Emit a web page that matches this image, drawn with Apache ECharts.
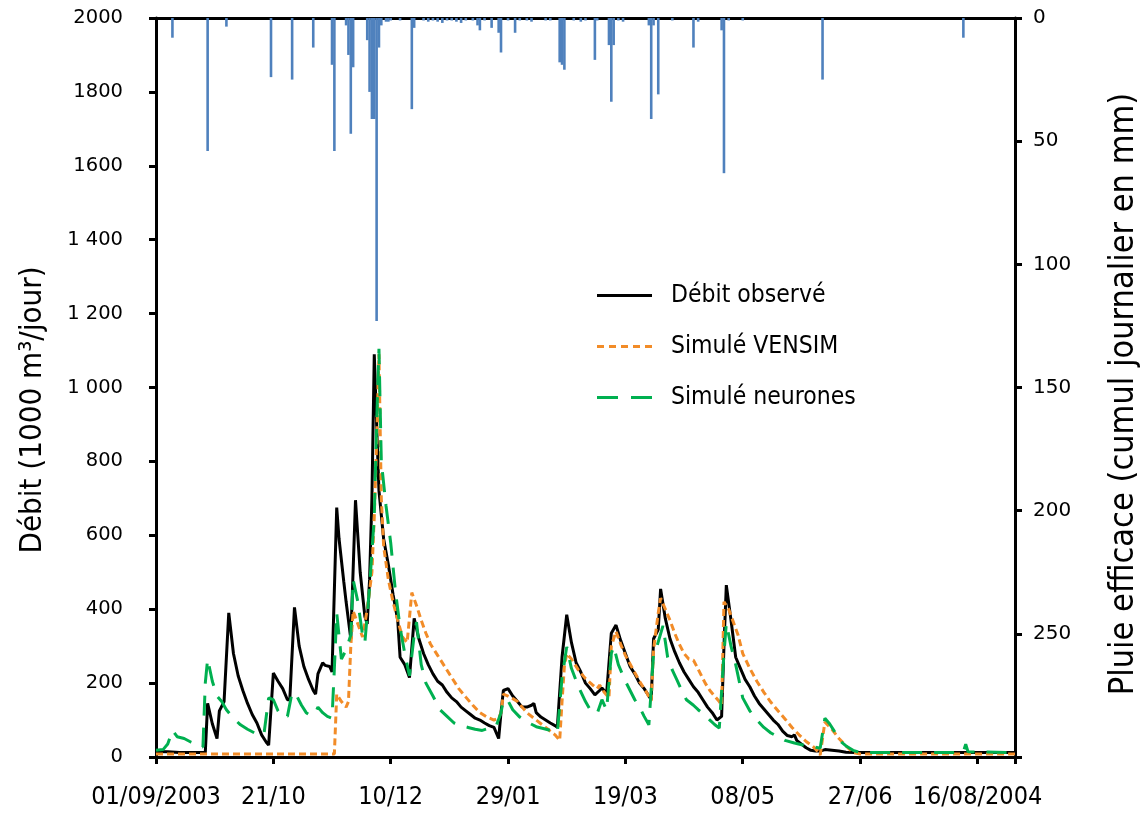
<!DOCTYPE html>
<html>
<head>
<meta charset="utf-8">
<script src="https://cdn.jsdelivr.net/npm/echarts@6/dist/echarts.min.js"></script>
<style>html,body{margin:0;padding:0;background:#fff}#c{width:1145px;height:815px}</style>
</head>
<body>
<div id="c"></div>
<script>
// ---- tick labels ----
const xTickLabels = ['01/09/2003','21/10','10/12','29/01','19/03','08/05','27/06','16/08/2004'];
const yLeftTickLabels = ['0','200','400','600','800','1 000','1 200','1 400','1600','1800','2000'];
const yRightTickLabels = ['0','50','100','150','200','250',''];

// ---- Débit observé (day index from 01/09/2003, 1000 m3/jour) ----
const obsDays = [0,5,10,15,21,22,24,26,27,29,31,33,35,37,39,41,43,45,47,48,50,52,54,56,57,59,61,63,65,67,68,69,70,71,72,74,75,77,78,80,81,83,85,87,89,90,91,92,93,94,95,97,99,101,103,104,106,108,110,112,114,116,118,120,122,124,126,128,130,132,134,136,138,140,142,144,146,147,148,150,152,154,156,158,160,161,162,164,166,168,170,171,173,175,177,179,181,183,185,187,189,190,192,194,196,198,200,202,204,206,208,210,211,212,214,215,217,219,221,223,225,227,229,231,233,235,237,239,241,242,243,245,247,249,251,253,255,257,259,261,263,265,267,269,271,272,273,275,277,279,281,283,285,288,291,294,298,310,330,350,366];
const obsValues = [15,14,12,12,12,145,90,50,125,150,390,280,220,180,145,115,92,60,40,32,227,205,185,155,155,405,300,245,210,180,170,225,240,255,248,245,230,675,590,475,420,320,695,500,380,360,480,700,1090,900,720,590,520,440,370,270,250,215,375,320,280,250,225,205,195,175,160,150,135,125,115,105,100,92,85,80,50,120,180,185,165,150,135,135,140,145,120,108,100,92,85,80,270,385,310,255,230,200,185,168,180,187,172,335,357,315,280,245,225,200,185,165,155,320,345,455,375,320,285,255,230,210,190,175,155,135,120,100,110,300,465,370,270,240,210,190,165,145,130,115,100,88,70,58,55,60,45,35,25,18,16,16,20,18,16,13,12,12,12,12,12];

// ---- Simulé VENSIM ----
const vensimDays = [0,76,77,79,81,82,83,84,86,88,90,92,93,94,95,96,97,99,101,103,105,107,109,111,113,115,117,120,123,126,129,132,135,138,141,144,146,147,148,150,152,154,156,158,161,164,167,170,172,173,174,175,177,180,183,186,188,189,191,193,194,196,198,200,203,206,209,211,212,214,215,217,219,221,223,225,227,229,230,232,234,236,238,240,241,242,244,246,248,250,253,256,259,262,265,268,271,274,277,280,282,283,285,288,291,294,297,300,366];
const vensimValues = [8,8,170,150,135,150,300,395,360,325,400,500,650,850,1090,700,570,480,420,370,325,310,445,410,370,335,305,275,245,215,185,162,140,120,108,100,105,120,170,165,158,150,135,120,105,90,75,60,45,150,245,280,265,235,212,195,185,195,175,160,300,340,305,275,240,205,175,152,290,390,430,400,370,335,305,280,265,262,250,225,200,180,165,150,140,420,400,365,330,280,240,205,175,148,125,103,80,60,42,28,15,5,95,75,50,30,12,8,8];

// ---- Simulé neurones ----
const neuronDays = [0,3,5,7,9,12,15,18,20,21,22,24,26,28,30,33,36,39,42,46,48,50,52,54,56,58,60,62,64,66,68,69,71,73,75,76,77,79,81,83,84,86,88,89,91,93,94,95,96,98,100,102,104,106,108,110,111,113,115,118,121,124,127,130,133,136,139,142,145,147,148,150,152,155,158,162,165,168,171,173,175,177,180,183,185,188,190,192,194,195,197,200,202,204,206,208,210,212,213,216,218,220,222,224,226,229,231,233,236,238,240,242,243,245,247,250,253,256,259,262,265,268,272,276,280,283,285,287,289,291,294,297,300,340,344,345,346,366];
const neuronValues = [18,20,35,72,55,50,40,32,27,200,265,205,165,150,128,105,87,75,65,62,160,155,125,108,110,175,165,140,120,112,120,135,120,110,105,240,390,265,290,330,480,420,330,310,460,650,900,1105,800,680,580,450,350,280,220,330,365,250,200,165,128,110,92,85,80,75,72,78,85,120,155,152,128,108,95,82,77,72,65,215,298,240,190,150,128,118,155,127,280,300,250,205,180,155,135,110,87,280,290,355,270,235,208,180,155,140,128,118,100,88,78,280,362,300,250,160,125,100,80,65,55,45,38,32,28,24,105,90,70,46,30,18,12,12,14,35,14,12];

// ---- Pluie efficace (mm/jour) ----
const rainDays = [7,22,30,49,58,67,75,76,81,82,83,84,90,91,92,93,94,95,96,98,99,100,104,109,110,114,116,118,120,122,124,126,128,130,132,135,137,138,140,143,146,147,150,153,155,158,160,166,168,172,173,174,178,181,183,187,188,193,194,195,197,199,210,211,212,214,220,229,231,241,242,244,250,284,344];
const rainValues = [8,54,3.5,24,25,12,19,54,3,15,47,20,9,30,41,41,123,12,3,1.5,1.5,1,1,37,4,1,1.5,1,1.5,2,1,1,1.5,2,1,1,3,5,1,4,6,14,1,6,1,1,1.5,1,1,18,19,21,1,1.5,1,17,1,11,34,11,1,1.5,3,41,3,31,1,12,1.5,5,63,1,1,25,8];

const zip = (a, b) => a.map((d, i) => [d, b[i]]);

const NARROW = '"DejaVu Sans Condensed", "Liberation Sans Narrow", Roboto, sans-serif';
const WIDE = '"DejaVu Sans", Verdana, sans-serif';

// legend icons (line samples)
const ICON_SOLID = 'path://M0,0H55V3H0Z';
const ICON_DOTS = 'path://M0,0H7V3H0Z M12,0H19V3H12Z M24,0H31V3H24Z M36,0H43V3H36Z M48,0H55V3H48Z';
const ICON_DASH = 'path://M0,0H21V3H0Z M34,0H55V3H34Z';

const chart = echarts.init(document.getElementById('c'), null, {renderer: 'canvas'});
chart.setOption({
  animation: false,
  backgroundColor: '#fff',
  grid: {left: 156, right: 130, top: 18, bottom: 58, containLabel: false},
  xAxis: [{
    type: 'value', min: 0, max: 366, interval: 50,
    axisLine: {show: true, onZero: false, lineStyle: {color: '#000', width: 3}},
    axisTick: {show: true, inside: false, length: 7, lineStyle: {color: '#000', width: 3}},
    splitLine: {show: false},
    axisLabel: {
      margin: 28, color: '#000', fontFamily: NARROW, fontSize: 25,
      showMinLabel: true, hideOverlap: false,
      formatter: v => (v % 50 === 0 && v / 50 < xTickLabels.length) ? xTickLabels[v / 50] : ''
    }
  }, {
    type: 'value', min: 0, max: 366, position: 'top',
    axisLine: {show: true, onZero: false, lineStyle: {color: '#000', width: 3}},
    axisTick: {show: false}, axisLabel: {show: false}, splitLine: {show: false}
  }],
  yAxis: [{
    type: 'value', min: 0, max: 2000, interval: 200, position: 'left',
    axisLine: {show: true, onZero: false, lineStyle: {color: '#000', width: 3}},
    axisTick: {show: true, inside: false, length: 7, lineStyle: {color: '#000', width: 3}},
    splitLine: {show: false},
    axisLabel: {
      margin: 33, color: '#000', fontFamily: WIDE, fontSize: 19.5,
      showMinLabel: true, showMaxLabel: true,
      formatter: v => yLeftTickLabels[Math.round(v / 200)] || ''
    }
  }, {
    type: 'value', min: 0, max: 300, interval: 50, inverse: true, position: 'right',
    axisLine: {show: true, onZero: false, lineStyle: {color: '#000', width: 3}},
    axisTick: {show: true, inside: false, length: 7, lineStyle: {color: '#000', width: 3}},
    splitLine: {show: false},
    axisLabel: {
      margin: 18, color: '#000', fontFamily: WIDE, fontSize: 20,
      showMinLabel: true,
      formatter: v => yRightTickLabels[Math.round(v / 50)] || ''
    }
  }],
  legend: {
    orient: 'vertical', left: 592, top: 278, itemWidth: 55, itemHeight: 3, itemGap: 26,
    textStyle: {fontFamily: NARROW, fontSize: 24.5, color: '#000', padding: [0, 0, 0, 14]},
    data: [
      {name: 'Débit observé', icon: ICON_SOLID},
      {name: 'Simulé VENSIM', icon: ICON_DOTS},
      {name: 'Simulé neurones', icon: ICON_DASH}
    ]
  },
  graphic: [{
    type: 'text', x: 33, y: 410, rotation: Math.PI / 2,
    style: {text: 'Débit (1000 m³/jour)', font: '31px ' + NARROW, fill: '#000', textAlign: 'center', textVerticalAlign: 'middle'}
  }, {
    type: 'text', x: 1124, y: 394, rotation: Math.PI / 2,
    style: {text: 'Pluie efficace (cumul journalier en mm)', font: '34px ' + NARROW, fill: '#000', textAlign: 'center', textVerticalAlign: 'middle'}
  }],
  series: [{
    name: 'Pluie efficace', type: 'bar', xAxisIndex: 0, yAxisIndex: 1,
    barWidth: 2.6, itemStyle: {color: '#4F81BD'},
    data: zip(rainDays, rainValues)
  }, {
    name: 'Débit observé', type: 'line', xAxisIndex: 0, yAxisIndex: 0,
    symbol: 'none', showSymbol: false,
    lineStyle: {color: '#000', width: 3}, itemStyle: {color: '#000'},
    data: zip(obsDays, obsValues)
  }, {
    name: 'Simulé VENSIM', type: 'line', xAxisIndex: 0, yAxisIndex: 0,
    symbol: 'none', showSymbol: false,
    lineStyle: {color: '#F28C28', width: 3, type: [7, 4]}, itemStyle: {color: '#F28C28'},
    data: zip(vensimDays, vensimValues)
  }, {
    name: 'Simulé neurones', type: 'line', xAxisIndex: 0, yAxisIndex: 0,
    symbol: 'none', showSymbol: false,
    lineStyle: {color: '#00B050', width: 3, type: [20, 12]}, itemStyle: {color: '#00B050'},
    data: zip(neuronDays, neuronValues)
  }]
});
</script>
</body>
</html>
